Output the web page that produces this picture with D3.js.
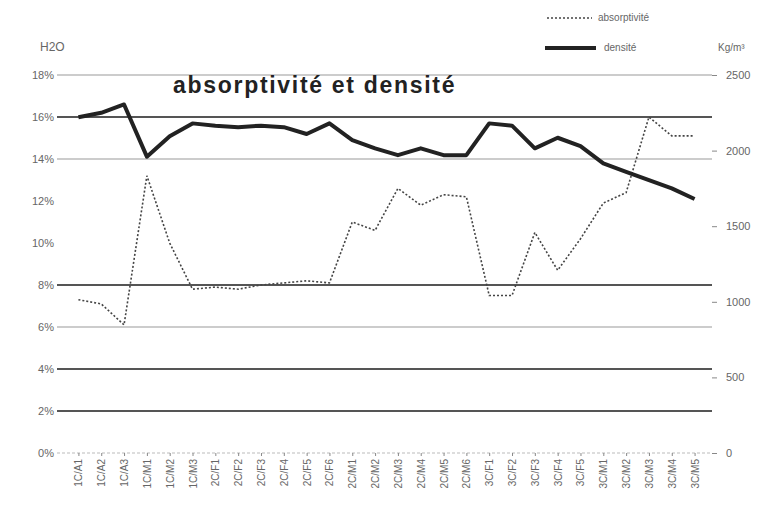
<!DOCTYPE html>
<html>
<head>
<meta charset="utf-8">
<script src="https://cdn.jsdelivr.net/npm/d3@7"></script>
<style>
  body { margin: 0; background: #fff; }
  text { font-family: "Liberation Sans", Arial, sans-serif; fill: #666; }
  .title { font-weight: bold; fill: #222; }
</style>
</head>
<body>
<div id="graph"></div>
<script>
// data
var categories = [
    "1C/A1", "1C/A2", "1C/A3", "1C/M1", "1C/M2", "1C/M3",
    "2C/F1", "2C/F2", "2C/F3", "2C/F4", "2C/F5", "2C/F6",
    "2C/M1", "2C/M2", "2C/M3", "2C/M4", "2C/M5", "2C/M6",
    "3C/F1", "3C/F2", "3C/F3", "3C/F4", "3C/F5",
    "3C/M1", "3C/M2", "3C/M3", "3C/M4", "3C/M5"
];
// H2O absorption, %
var absorptivite = [7.3, 7.1, 6.1, 13.2, 10.0, 7.8, 7.9, 7.8, 8.0, 8.1, 8.2, 8.1,
    11.0, 10.6, 12.6, 11.8, 12.3, 12.2, 7.5, 7.5, 10.5, 8.7, 10.2, 11.9,
    12.4, 16.0, 15.1, 15.1];
// density, kg/m3
var densite = [2220, 2250, 2305, 1960, 2095, 2180, 2165, 2155, 2165, 2155, 2110, 2180,
    2070, 2015, 1970, 2015, 1970, 1970, 2180, 2165, 2015, 2085, 2030, 1915,
    1860, 1805, 1750, 1680];
var leftTicks = [0, 2, 4, 6, 8, 10, 12, 14, 16, 18];
var rightTicks = [0, 500, 1000, 1500, 2000, 2500];

var width = 765,
    height = 511;

var svg = d3.select('#graph')
    .append('svg')
    .attr('width', width)
    .attr('height', height);

var x = d3.scalePoint()
    .domain(categories)
    .range([67, 706])
    .padding(0.5);

var yLeft = d3.scaleLinear().domain([0, 18]).range([453, 75]);
var yRight = d3.scaleLinear().domain([0, 2500]).range([453, 75]);

// gridlines, the scan shows them with uneven weight
var darkGrid = [16, 8, 4, 2];
var hiddenGrid = [10, 12];
svg.append('g').selectAll('line')
    .data(leftTicks.filter(function(d) { return hiddenGrid.indexOf(d) < 0; }))
    .enter()
    .append('line')
    .attr('x1', 57)
    .attr('x2', 712)
    .attr('y1', function(d) { return yLeft(d); })
    .attr('y2', function(d) { return yLeft(d); })
    .attr('stroke', function(d) { return darkGrid.indexOf(d) >= 0 ? '#555' : (d === 0 ? '#bbb' : '#999'); })
    .attr('stroke-width', function(d) { return darkGrid.indexOf(d) >= 0 ? 1.8 : 1.2; })
    .attr('stroke-dasharray', function(d) { return d === 0 ? '3,2' : null; });

// left axis
var leftAxis = svg.append('g')
    .attr('transform', 'translate(54,0)')
    .call(d3.axisLeft(yLeft).tickValues(leftTicks).tickSize(0).tickPadding(0)
        .tickFormat(function(d) { return d + '%'; }));
leftAxis.select('.domain').remove();
leftAxis.selectAll('text').style('font-size', '11px').attr('fill', '#666');

// right axis
var rightAxis = svg.append('g')
    .attr('transform', 'translate(712,0)')
    .call(d3.axisRight(yRight).tickValues(rightTicks).tickSize(5).tickPadding(9)
        .tickFormat(d3.format('d')));
rightAxis.select('.domain').remove();
rightAxis.selectAll('line').attr('stroke', '#888');
rightAxis.selectAll('text').style('font-size', '11px').attr('fill', '#666');

// x axis labels, rotated
var xAxis = svg.append('g')
    .attr('transform', 'translate(0,453)')
    .call(d3.axisBottom(x).tickSize(3));
xAxis.select('.domain').remove();
xAxis.selectAll('line').attr('stroke', '#888');
xAxis.selectAll('text')
    .style('font-size', '10px')
    .attr('fill', '#555')
    .attr('text-anchor', 'end')
    .attr('transform', 'rotate(-90)')
    .attr('x', -6)
    .attr('y', 0)
    .attr('dy', '0.35em');

// lines
var lineAbs = d3.line()
    .x(function(d, i) { return x(categories[i]); })
    .y(function(d) { return yLeft(d); });
var lineDen = d3.line()
    .x(function(d, i) { return x(categories[i]); })
    .y(function(d) { return yRight(d); });

svg.append('path')
    .datum(absorptivite)
    .attr('d', lineAbs)
    .attr('fill', 'none')
    .attr('stroke', '#444')
    .attr('stroke-width', 1.6)
    .attr('stroke-dasharray', '2,2');

svg.append('path')
    .datum(densite)
    .attr('d', lineDen)
    .attr('fill', 'none')
    .attr('stroke', '#222')
    .attr('stroke-width', 4)
    .attr('stroke-linejoin', 'round');

// titles
svg.append('text')
    .attr('class', 'title')
    .attr('x', 173)
    .attr('y', 93)
    .style('font-size', '23px')
    .style('letter-spacing', '1.7px')
    .text('absorptivité et densité');

svg.append('text')
    .attr('x', 40)
    .attr('y', 51)
    .style('font-size', '12px')
    .attr('fill', '#555')
    .text('H2O');

svg.append('text')
    .attr('x', 718)
    .attr('y', 51)
    .style('font-size', '10px')
    .attr('fill', '#555')
    .text('Kg/m³');

// legend
var legend = svg.append('g');
legend.append('line')
    .attr('x1', 547).attr('x2', 592)
    .attr('y1', 18).attr('y2', 18)
    .attr('stroke', '#444')
    .attr('stroke-width', 1.6)
    .attr('stroke-dasharray', '2,2');
legend.append('text')
    .attr('x', 598).attr('y', 21)
    .style('font-size', '10px')
    .text('absorptivité');
legend.append('line')
    .attr('x1', 545).attr('x2', 596)
    .attr('y1', 48).attr('y2', 48)
    .attr('stroke', '#222')
    .attr('stroke-width', 4);
legend.append('text')
    .attr('x', 604).attr('y', 51)
    .style('font-size', '10px')
    .text('densité');
</script>
</body>
</html>
